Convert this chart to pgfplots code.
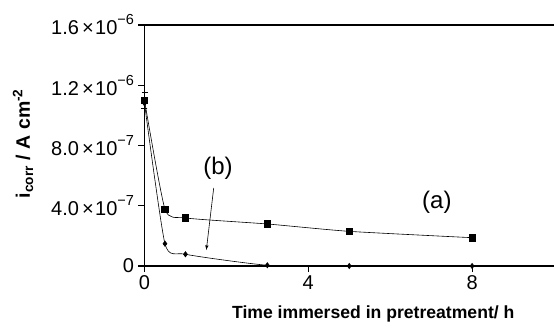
\documentclass[border=0pt]{standalone}
\usepackage{pgfplots}
\pgfplotsset{compat=1.18}
\usepackage{fontspec}
\setmainfont{Liberation Sans}
\newcommand{\sci}[2]{#1\hspace{3pt}×\hspace{1.5pt}10\raisebox{0.5em}{\fontsize{14.5}{14.5}\selectfont −#2}}
\begin{document}
\begin{tikzpicture}
\useasboundingbox (0,0) rectangle (554pt,332pt);
\begin{axis}[
  at={(144.5pt,66pt)}, anchor=south west,
  scale only axis, width=409.5pt, height=241pt,
  xmin=0, xmax=10, ymin=0, ymax=1.6e-6,
  axis x line*=bottom, axis y line*=left,
  axis line style={line width=1.6pt, -},
  xtick={0,4,8}, xticklabels={0,4,8},
  ytick={0,4e-7,8e-7,1.2e-6,1.6e-6},
  yticklabels={0,\sci{4.0}{7},\sci{8.0}{7},\sci{1.2}{6},\sci{1.6}{6}},
  scaled y ticks=false, scaled x ticks=false,
  tick align=outside, major tick length=6pt,
  every tick/.style={line width=1.2pt, black},
  tick label style={font=\fontsize{20}{20}\selectfont},
  yticklabel style={xshift=-1pt},
  xlabel={\bfseries Time immersed in pretreatment/ h},
  ylabel={\bfseries i\textsubscript{corr} / A cm\textsuperscript{-2}},
  xlabel style={font=\fontsize{17.6}{17.6}\selectfont, at={(axis description cs:0.5,0)}, anchor=center, yshift=-48pt, xshift=24pt},
  ylabel style={font=\fontsize{19.5}{19.5}\selectfont, at={(axis description cs:0,0.5)}, anchor=center, yshift=121.5pt, xshift=2pt},
  clip=false,
]
\addplot[black, line width=0.6pt, smooth, tension=0.35, mark=square*, mark size=3.2pt,
  error bars/.cd, y dir=both, y explicit, error mark options={rotate=90, mark size=3pt}]
  coordinates {(0,1.10e-6) +- (0,0.055e-6) (0.5,0.378e-6) (1,0.319e-6) (3,0.279e-6) (5,0.230e-6) (8,0.188e-6)};
\addplot[black, line width=0.6pt, smooth, tension=0.35, mark=diamond*, mark size=2.6pt,
  error bars/.cd, y dir=both, y explicit, error mark options={rotate=90, mark size=3pt}]
  coordinates {(0,1.08e-6) +- (0,0.035e-6) (0.5,0.148e-6) (1,0.078e-6) (3,0.005e-6) (5,0.0) (8,0.0)};
\draw[line width=1.6pt] (rel axis cs:0,1) -- (rel axis cs:1,1);
\node[font=\fontsize{24}{24}\selectfont] at (axis cs:1.795,0.651e-6) {(b)};
\node[font=\fontsize{24}{24}\selectfont] at (axis cs:7.14,0.425e-6) {(a)};
\draw[-latex, line width=0.6pt] (axis cs:1.69,0.518e-6) -- (axis cs:1.51,0.106e-6);
\end{axis}
\end{tikzpicture}
\end{document}
